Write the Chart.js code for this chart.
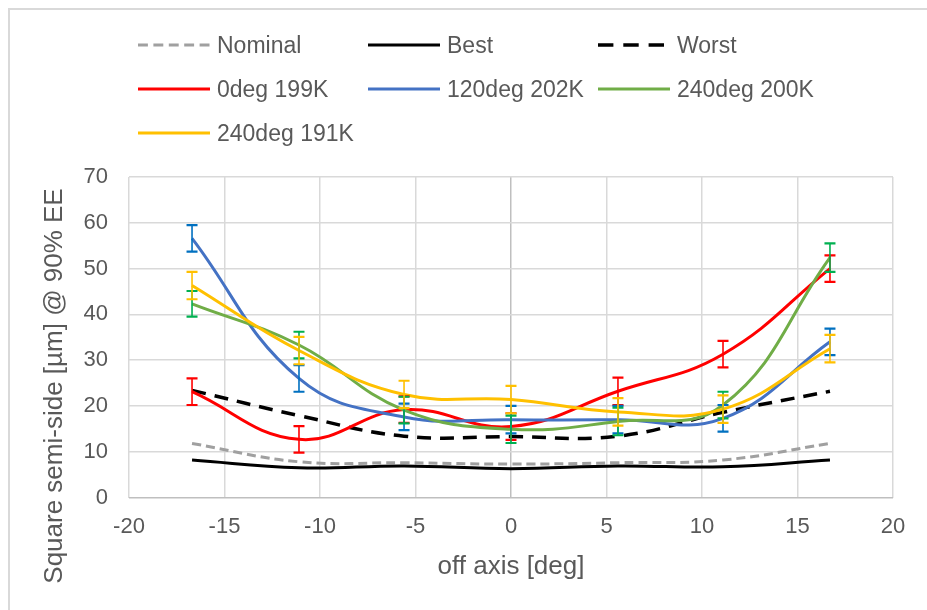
<!DOCTYPE html>
<html>
<head>
<meta charset="utf-8">
<script src="https://cdn.jsdelivr.net/npm/chart.js@4"></script>
<style>
  body { margin: 0; background: #fff; }
  #wrap { position: relative; width: 927px; height: 610px; overflow: hidden; }
  #frame {
    position: absolute; left: 8px; top: 8px; width: 960px; height: 640px;
    border-left: 2px solid #D9D9D9; border-top: 2px solid #D9D9D9;
  }
  .legend-item {
    position: absolute; height: 30px; display: flex; align-items: center;
    font: 23px "Liberation Sans", Arial, sans-serif; color: #595959; white-space: nowrap;
  }
  .legend-item svg { margin-right: 7px; }
</style>
</head>
<body>
<div id="wrap">
  <div id="frame"></div>
  <canvas id="chart" width="927" height="610"></canvas>
  <div id="legend"></div>
</div>
<script>
// Off-axis field angles (deg)
const OFF_AXIS = [-16.7, -11.1, -5.6, 0, 5.6, 11.1, 16.7];

// Square semi-side at 90% encircled energy (um)
const NOMINAL = [11.8, 7.8, 7.6, 7.3, 7.6, 8.2, 11.8];
const BEST = [8.2, 6.5, 6.9, 6.3, 6.9, 6.7, 8.2];
const WORST = [23.4, 17.9, 13.4, 13.3, 13.4, 18.6, 23.2];

const DEG0_199K = [23.1, 12.7, 19.2, 15.5, 23.2, 31.3, 50.0];
const DEG120_202K = [56.6, 26.0, 17.6, 17.0, 17.0, 17.3, 34.0];
const DEG240_200K = [42.3, 33.3, 19.1, 14.9, 16.6, 20.2, 52.4];
const DEG240_191K = [46.3, 32.1, 22.5, 21.4, 18.7, 19.3, 32.5];

// +/- measurement error
const DEG0_199K_ERR = [2.9, 2.9, 2.9, 2.9, 3.0, 2.9, 2.9];
const DEG120_202K_ERR = [2.9, 2.9, 2.9, 3.0, 3.0, 2.9, 2.9];
const DEG240_200K_ERR = [2.8, 2.9, 2.9, 3.0, 3.0, 2.9, 3.1];
const DEG240_191K_ERR = [3.0, 3.0, 3.0, 3.0, 3.0, 3.0, 3.0];

const X_TICKS = [-20, -15, -10, -5, 0, 5, 10, 15, 20];
const Y_TICKS = [0, 10, 20, 30, 40, 50, 60, 70];

const X_TITLE = 'off axis [deg]';
const Y_TITLE = 'Square semi-side [\u00b5m] @ 90% EE';

const FONT = '"Liberation Sans", Arial, sans-serif';
const TEXT = '#595959';

function series(label, ys, color, opts = {}) {
    return {
        label: label,
        data: OFF_AXIS.map((x, i) => ({ x: x, y: ys[i] })),
        borderColor: color,
        backgroundColor: color,
        borderWidth: opts.width || 3,
        borderDash: opts.dash || [],
        errors: opts.errors,
        errorColor: opts.errorColor,
        order: opts.order,
        showLine: true,
        pointRadius: 0,
        pointHoverRadius: 0,
        tension: 0.42
    };
}

const datasets = [
    series('Nominal', NOMINAL, '#A0A0A0', { dash: [9, 5], order: 7 }),
    series('Best', BEST, '#000000', { order: 6 }),
    series('Worst', WORST, '#000000', { dash: [14, 9], width: 3.5, order: 5 }),
    series('0deg 199K', DEG0_199K, '#FF0000', { errors: DEG0_199K_ERR, errorColor: '#FF0000', order: 4 }),
    series('120deg 202K', DEG120_202K, '#4472C4', { errors: DEG120_202K_ERR, errorColor: '#0070C0', order: 3 }),
    series('240deg 200K', DEG240_200K, '#70AD47', { errors: DEG240_200K_ERR, errorColor: '#00B050', order: 2 }),
    series('240deg 191K', DEG240_191K, '#FFC000', { errors: DEG240_191K_ERR, errorColor: '#FFC000', order: 1 })
];

// Vertical error bars with caps, drawn on top of the lines
const errorBarPlugin = {
    id: 'errorBars',
    afterDatasetsDraw(chart) {
        const { ctx, scales: { x, y } } = chart;
        chart.data.datasets.forEach(ds => {
            if (!ds.errors) return;
            ctx.save();
            ctx.strokeStyle = ds.errorColor;
            ds.data.forEach((p, i) => {
                const e = ds.errors[i];
                const px = x.getPixelForValue(p.x);
                const top = y.getPixelForValue(p.y + e);
                const bot = y.getPixelForValue(p.y - e);
                ctx.lineWidth = 1.6;
                ctx.beginPath();
                ctx.moveTo(px, top);
                ctx.lineTo(px, bot);
                ctx.stroke();
                ctx.lineWidth = 2.2;
                ctx.beginPath();
                ctx.moveTo(px - 5.5, top);
                ctx.lineTo(px + 5.5, top);
                ctx.moveTo(px - 5.5, bot);
                ctx.lineTo(px + 5.5, bot);
                ctx.stroke();
            });
            ctx.restore();
        });
    }
};

// Rotated y-axis title
const yTitlePlugin = {
    id: 'yTitle',
    afterDraw(chart) {
        const ctx = chart.ctx;
        ctx.save();
        ctx.translate(55, 386);
        ctx.rotate(-Math.PI / 2);
        ctx.font = '26px ' + FONT;
        ctx.fillStyle = TEXT;
        ctx.textAlign = 'center';
        ctx.textBaseline = 'middle';
        ctx.fillText(Y_TITLE, 0, 0);
        ctx.restore();
    }
};

new Chart(document.getElementById('chart'), {
    type: 'scatter',
    data: { datasets: datasets },
    options: {
        responsive: false,
        animation: false,
        events: [],
        layout: { padding: { top: 177, right: 34, left: 0, bottom: 0 } },
        plugins: {
            legend: { display: false },
            tooltip: { enabled: false }
        },
        scales: {
            x: {
                type: 'linear',
                min: -20,
                max: 20,
                afterBuildTicks: s => { s.ticks = X_TICKS.map(v => ({ value: v })); },
                afterFit: s => { s.height = 112.5; },
                border: { display: false },
                grid: {
                    drawTicks: false,
                    lineWidth: 1.5,
                    color: c => (c.tick && c.tick.value === 0) ? '#BFBFBF' : '#D9D9D9'
                },
                ticks: { padding: 16, color: TEXT, font: { family: FONT, size: 22 } },
                title: {
                    display: true,
                    text: X_TITLE,
                    color: TEXT,
                    font: { family: FONT, size: 26 },
                    padding: { top: 0, bottom: 28 }
                }
            },
            y: {
                type: 'linear',
                min: 0,
                max: 70,
                afterBuildTicks: s => { s.ticks = Y_TICKS.map(v => ({ value: v })); },
                afterFit: s => { s.width = 129; },
                border: { display: false },
                grid: {
                    drawTicks: false,
                    lineWidth: 1.5,
                    color: c => (c.tick && c.tick.value === 0) ? '#BFBFBF' : '#D9D9D9'
                },
                ticks: { padding: 21, color: TEXT, font: { family: FONT, size: 22 } }
            }
        }
    },
    plugins: [errorBarPlugin, yTitlePlugin]
});

// Legend laid out in three columns like the original chart
const LEGEND_COLS = [138, 368, 598];
const LEGEND_ROWS = [45, 89, 133];
const legendEl = document.getElementById('legend');
datasets.forEach((ds, i) => {
    const item = document.createElement('div');
    item.className = 'legend-item';
    item.style.left = LEGEND_COLS[i % 3] + 'px';
    item.style.top = (LEGEND_ROWS[Math.floor(i / 3)] - 15) + 'px';
    const dash = ds.borderDash.length ? ds.borderDash.map(d => d * 1.1).join(' ') : 'none';
    item.innerHTML =
        '<svg width="72" height="30"><line x1="0" y1="15" x2="72" y2="15" stroke="' + ds.borderColor +
        '" stroke-width="' + ds.borderWidth + '" stroke-dasharray="' + dash + '"/></svg>';
    const span = document.createElement('span');
    span.textContent = ds.label;
    item.appendChild(span);
    legendEl.appendChild(item);
});
</script>
</body>
</html>
